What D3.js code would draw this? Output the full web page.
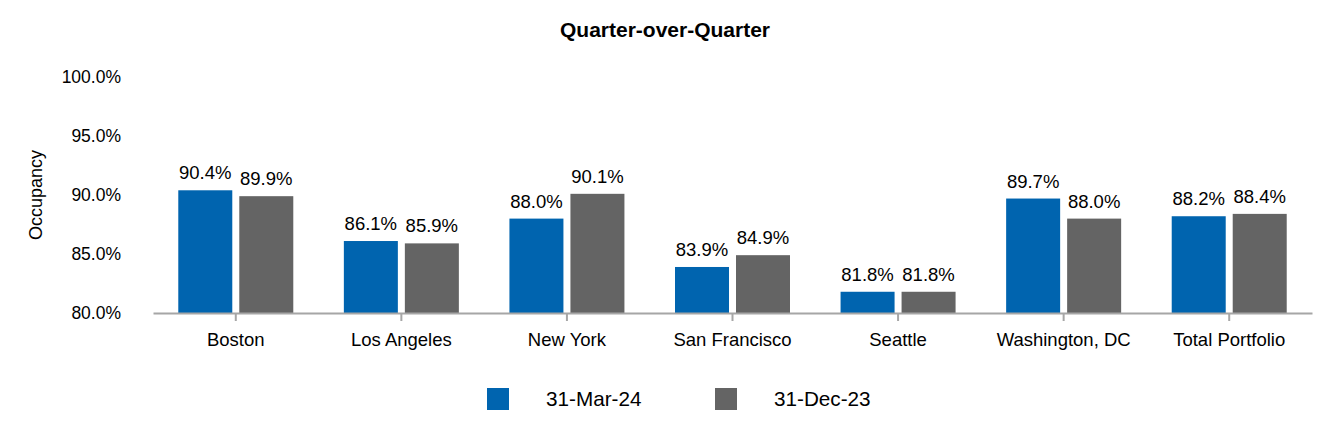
<!DOCTYPE html>
<html><head><meta charset="utf-8">
<script src="https://cdn.jsdelivr.net/npm/d3@7"></script>
<style>body{margin:0;background:#fff}svg{display:block;font-family:"Liberation Sans",Arial,sans-serif}</style>
</head><body><svg id="c" width="1332" height="440"></svg>
<script>
const categories = ["Boston","Los Angeles","New York","San Francisco","Seattle","Washington, DC","Total Portfolio"];
const seriesNames = ["31-Mar-24","31-Dec-23"];
const mar24 = [90.4, 86.1, 88.0, 83.9, 81.8, 89.7, 88.2];
const dec23 = [89.9, 85.9, 90.1, 84.9, 81.8, 88.0, 88.4];
const yTicks = [80, 85, 90, 95, 100];
const colors = ["#0064AF", "#646464"];
const title = "Quarter-over-Quarter";
const yTitle = "Occupancy";

const svg = d3.select("#c");
const x = d3.scaleBand().domain(categories).range([153, 1312]);
const y = d3.scaleLinear().domain([80, 100]).range([313, 77]);
const series = [mar24, dec23];
const barW = 54, gap = 7;

svg.append("text").attr("x", 665).attr("y", 37).attr("text-anchor","middle")
  .attr("font-weight","bold").attr("font-size",21).text(title);

svg.append("text").attr("transform","translate(42,195) rotate(-90)").attr("text-anchor","middle")
  .attr("font-size",18).text(yTitle);

svg.selectAll(".yt").data(yTicks).join("text").attr("class","yt")
  .attr("x",121).attr("y",d=>y(d)+6).attr("text-anchor","end").attr("font-size",17.5)
  .text(d=>d3.format(".1f")(d)+"%");

series.forEach((vals, si) => {
  const off = si === 0 ? -gap/2 - barW : gap/2;
  svg.selectAll(".b"+si).data(vals).join("rect").attr("class","b"+si)
    .attr("x",(d,i)=>x(categories[i])+x.bandwidth()/2+off)
    .attr("y",d=>y(d)).attr("width",barW).attr("height",d=>y(80)-y(d))
    .attr("fill",colors[si]);
  svg.selectAll(".l"+si).data(vals).join("text").attr("class","l"+si)
    .attr("x",(d,i)=>x(categories[i])+x.bandwidth()/2+off+barW/2)
    .attr("y",d=>y(d)-11).attr("text-anchor","middle").attr("font-size",18.5)
    .text(d=>d3.format(".1f")(d)+"%");
});

const ax = svg.append("g").attr("transform",`translate(0,${y(80)})`)
  .call(d3.axisBottom(x).tickSize(8).tickSizeOuter(0));
ax.select(".domain").attr("stroke","#a6a6a6").attr("stroke-width",2);
ax.selectAll(".tick line").attr("stroke","#a6a6a6").attr("stroke-width",2);
ax.selectAll(".tick text").attr("font-size",18.5).attr("font-family",null).attr("fill","#000").attr("dy","1.2em");

const lg = svg.append("g");
const lx = [487, 715];
seriesNames.forEach((n, i) => {
  lg.append("rect").attr("x",lx[i]).attr("y",388).attr("width",22).attr("height",22).attr("fill",colors[i]);
  lg.append("text").attr("x",lx[i]+59).attr("y",406).attr("font-size",20.7).text(n);
});
</script></body></html>
